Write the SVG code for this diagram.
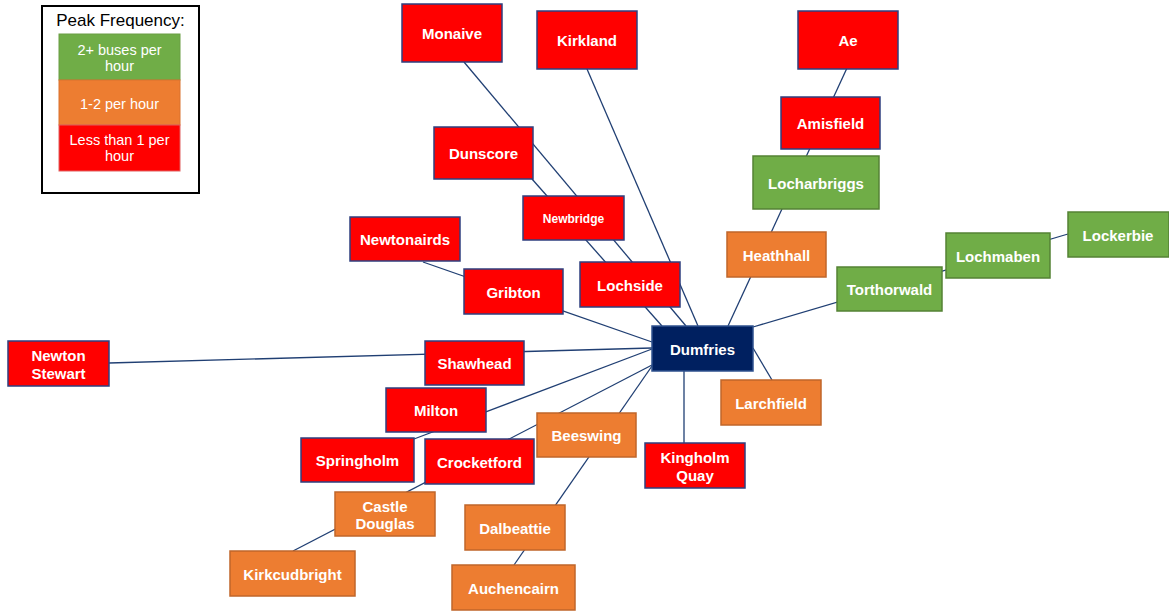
<svg xmlns="http://www.w3.org/2000/svg" width="1169" height="613" viewBox="0 0 1169 613">
<style>
.bg{fill:#ffffff}
.edge{stroke:#203F73;stroke-width:1.3;fill:none}
.red{fill:#FF0000;stroke:#2F3F7F;stroke-width:1.5}
.orange{fill:#ED7D31;stroke:#C0662A;stroke-width:1.5}
.green{fill:#70AD47;stroke:#548235;stroke-width:1.5}
.navy{fill:#002060;stroke:#2F528F;stroke-width:1.5}
.lbl{font-family:"Liberation Sans",Arial,sans-serif;font-weight:bold;font-size:15px;fill:#ffffff;text-anchor:middle}
.small{font-size:12px}
.leg{font-family:"Liberation Sans",Arial,sans-serif;font-size:14.5px;fill:#ffffff;text-anchor:middle}
.legt{font-family:"Liberation Sans",Arial,sans-serif;font-size:17px;fill:#000000;text-anchor:middle}
</style>
<rect class="bg" x="0" y="0" width="1169" height="613"/>
<g id="legend">
  <rect x="42" y="6" width="157" height="187" fill="#ffffff" stroke="#000000" stroke-width="2"/>
  <text class="legt" x="120.5" y="26">Peak Frequency:</text>
  <rect x="59" y="34" width="121" height="46" fill="#70AD47" stroke="#6A9E45" stroke-width="1"/>
  <text class="leg" x="119.5" y="55">2+ buses per</text>
  <text class="leg" x="119.5" y="71">hour</text>
  <rect x="59" y="80" width="121" height="45" fill="#ED7D31" stroke="#D9732F" stroke-width="1"/>
  <text class="leg" x="119.5" y="109">1-2 per hour</text>
  <rect x="59" y="125" width="121" height="46" fill="#FF0000" stroke="#E06060" stroke-width="1"/>
  <text class="leg" x="119.5" y="145">Less than 1 per</text>
  <text class="leg" x="119.5" y="161">hour</text>
</g>
<g id="connectors">
  <line id="e-monaive" class="edge" x1="464" y1="62" x2="686" y2="326"/>
  <line id="e-dunscore" class="edge" x1="532" y1="179" x2="662" y2="326"/>
  <line id="e-kirkland" class="edge" x1="587" y1="69" x2="698" y2="326"/>
  <line id="e-ae" class="edge" x1="847" y1="68" x2="728" y2="326"/>
  <line id="e-lockerbie" class="edge" x1="1068" y1="234" x2="753" y2="327"/>
  <line id="e-larchfield" class="edge" x1="753" y1="348" x2="772" y2="380"/>
  <line id="e-kingholm" class="edge" x1="684" y1="371" x2="684" y2="443"/>
  <line id="e-auchencairn" class="edge" x1="514" y1="565" x2="652" y2="366"/>
  <line id="e-kirkcudbright" class="edge" x1="293" y1="551" x2="652" y2="365"/>
  <line id="e-springholm" class="edge" x1="414" y1="439" x2="652" y2="349"/>
  <line id="e-newtonstewart" class="edge" x1="109" y1="363" x2="652" y2="348"/>
  <line id="e-newtonairds" class="edge" x1="423" y1="262" x2="652" y2="342"/>
</g>
<g id="monaive"><rect class="red" x="402" y="4" width="100" height="58"/><text class="lbl" x="452" y="39">Monaive</text></g>
<g id="kirkland"><rect class="red" x="537" y="11" width="100" height="58"/><text class="lbl" x="587" y="46">Kirkland</text></g>
<g id="ae"><rect class="red" x="798" y="11" width="100" height="58"/><text class="lbl" x="848" y="45.5">Ae</text></g>
<g id="amisfield"><rect class="red" x="781" y="97" width="99" height="52"/><text class="lbl" x="830.5" y="129">Amisfield</text></g>
<g id="locharbriggs"><rect class="green" x="753" y="156" width="126" height="53"/><text class="lbl" x="816" y="189">Locharbriggs</text></g>
<g id="dunscore"><rect class="red" x="434" y="127" width="99" height="52"/><text class="lbl" x="483.5" y="159">Dunscore</text></g>
<g id="newbridge"><rect class="red" x="523" y="196" width="101" height="44"/><text class="lbl small" x="573.5" y="223">Newbridge</text></g>
<g id="newtonairds"><rect class="red" x="350" y="217" width="110" height="44"/><text class="lbl" x="405" y="245">Newtonairds</text></g>
<g id="heathhall"><rect class="orange" x="727" y="232" width="99" height="45"/><text class="lbl" x="776.5" y="260.5">Heathhall</text></g>
<g id="lochmaben"><rect class="green" x="946" y="233" width="104" height="45"/><text class="lbl" x="998" y="262">Lochmaben</text></g>
<g id="lockerbie"><rect class="green" x="1068" y="212" width="101" height="45"/><text class="lbl" x="1118" y="240.5">Lockerbie</text></g>
<g id="gribton"><rect class="red" x="464" y="269" width="99" height="45"/><text class="lbl" x="513.5" y="298">Gribton</text></g>
<g id="lochside"><rect class="red" x="580" y="262" width="100" height="45"/><text class="lbl" x="630" y="291">Lochside</text></g>
<g id="torthorwald"><rect class="green" x="837" y="267" width="105" height="44"/><text class="lbl" x="889.5" y="295">Torthorwald</text></g>
<g id="dumfries"><rect class="navy" x="652" y="326" width="101" height="45"/><text class="lbl" x="702.5" y="354.5">Dumfries</text></g>
<g id="newtonstewart"><rect class="red" x="8" y="341" width="101" height="45"/><text class="lbl" x="58.5" y="361">Newton</text><text class="lbl" x="58.5" y="378.5">Stewart</text></g>
<g id="shawhead"><rect class="red" x="425" y="341" width="99" height="44"/><text class="lbl" x="474.5" y="369">Shawhead</text></g>
<g id="larchfield"><rect class="orange" x="721" y="380" width="100" height="45"/><text class="lbl" x="771" y="409">Larchfield</text></g>
<g id="milton"><rect class="red" x="386" y="388" width="100" height="44"/><text class="lbl" x="436" y="416">Milton</text></g>
<g id="beeswing"><rect class="orange" x="537" y="413" width="99" height="44"/><text class="lbl" x="586.5" y="441">Beeswing</text></g>
<g id="springholm"><rect class="red" x="301" y="438" width="113" height="44"/><text class="lbl" x="357.5" y="466">Springholm</text></g>
<g id="crocketford"><rect class="red" x="425" y="439" width="109" height="45"/><text class="lbl" x="479.5" y="467.5">Crocketford</text></g>
<g id="kingholmquay"><rect class="red" x="645" y="443" width="100" height="45"/><text class="lbl" x="695" y="463">Kingholm</text><text class="lbl" x="695" y="480.5">Quay</text></g>
<g id="castledouglas"><rect class="orange" x="335" y="492" width="100" height="44"/><text class="lbl" x="385" y="511.5">Castle</text><text class="lbl" x="385" y="529">Douglas</text></g>
<g id="dalbeattie"><rect class="orange" x="465" y="505" width="100" height="45"/><text class="lbl" x="515" y="533.5">Dalbeattie</text></g>
<g id="kirkcudbright"><rect class="orange" x="230" y="551" width="125" height="45"/><text class="lbl" x="292.5" y="579.5">Kirkcudbright</text></g>
<g id="auchencairn"><rect class="orange" x="452" y="565" width="123" height="45"/><text class="lbl" x="513.5" y="593.5">Auchencairn</text></g>
</svg>
